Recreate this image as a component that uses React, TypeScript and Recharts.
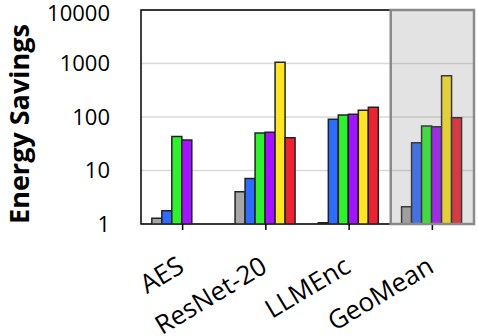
import React from "react";
import {
  BarChart,
  Bar,
  XAxis,
  YAxis,
  CartesianGrid,
  ReferenceArea,
} from "recharts";

// values (log scale, 1..10000)
const categories = ["AES", "ResNet-20", "LLMEnc", "GeoMean"];
const grayVals = [1.28, 4.0, 1.05, 2.1];
const blueVals = [1.77, 7.1, 91, 33];
const greenVals = [43, 50, 109, 68];
const purpleVals = [37, 52, 112, 66];
const yellowVals = [null, 1050, 133, 590];
const redVals = [null, 41, 152, 97];
const yTicks = [1, 10, 100, 1000, 10000];

const data = categories.map((name, i) => ({
  name,
  gray: grayVals[i],
  blue: blueVals[i],
  green: greenVals[i],
  purple: purpleVals[i],
  yellow: yellowVals[i],
  red: redVals[i],
}));

const series = [
  { key: "gray", color: "#a6a6a6" },
  { key: "blue", color: "#2e6bff" },
  { key: "green", color: "#2ef22e" },
  { key: "purple", color: "#a213ff" },
  { key: "yellow", color: "#ffe524" },
  { key: "red", color: "#ec2331" },
];

const FONT = "'Open Sans', sans-serif";

const XTick = (props: any) => {
  const { x, y, payload } = props;
  return (
    <g transform={`translate(${x + 3},${y + 39})`}>
      <text
        textAnchor="end"
        transform="rotate(-31)"
        fontSize={26}
        fontFamily={FONT}
        fill="#000"
      >
        {payload.value}
      </text>
    </g>
  );
};

const YTitle = () => (
  <text
    x={29}
    y={124}
    transform="rotate(-90, 29, 124)"
    textAnchor="middle"
    fontSize={27}
    fontWeight={700}
    fontFamily={FONT}
    fill="#000"
  >
    Energy Savings
  </text>
);

const App = () => {
  return (
    <div style={{ position: "absolute", left: 0, top: 0 }}>
      <BarChart
        width={478}
        height={336}
        data={data}
        margin={{ top: 10, right: 4, left: 0, bottom: 0 }}
        barGap={0}
        barCategoryGap="13%"
      >
        <CartesianGrid vertical={false} stroke="#d9d9d9" strokeWidth={1.5} />
        <XAxis
          dataKey="name"
          height={112}
          axisLine={false}
          tickLine={{ stroke: "#000", strokeWidth: 1.5 }}
          tickSize={6}
          tick={<XTick />}
          interval={0}
        />
        <YAxis
          scale="log"
          domain={[1, 10000]}
          ticks={yTicks}
          allowDataOverflow
          width={141}
          axisLine={false}
          tickLine={false}
          tickMargin={25}
          tick={{ fontSize: 22, fontFamily: FONT, fill: "#000" }}
          label={{ content: () => <YTitle /> }}
        />
        <ReferenceArea
          y1={1}
          y2={10000}
          fill="none"
          stroke="#000"
          strokeWidth={1.5}
        />
        {series.map((s) => (
          <Bar
            key={s.key}
            dataKey={s.key}
            fill={s.color}
            stroke="#222"
            strokeWidth={1.5}
            isAnimationActive={false}
          />
        ))}
        <ReferenceArea
          x1="GeoMean"
          x2="GeoMean"
          y1={1}
          y2={10000}
          fill="#888"
          fillOpacity={0.24}
          stroke="#8a8a8a"
          strokeWidth={2.5}
          zIndex={900}
        />
      </BarChart>
    </div>
  );
};

export default App;
